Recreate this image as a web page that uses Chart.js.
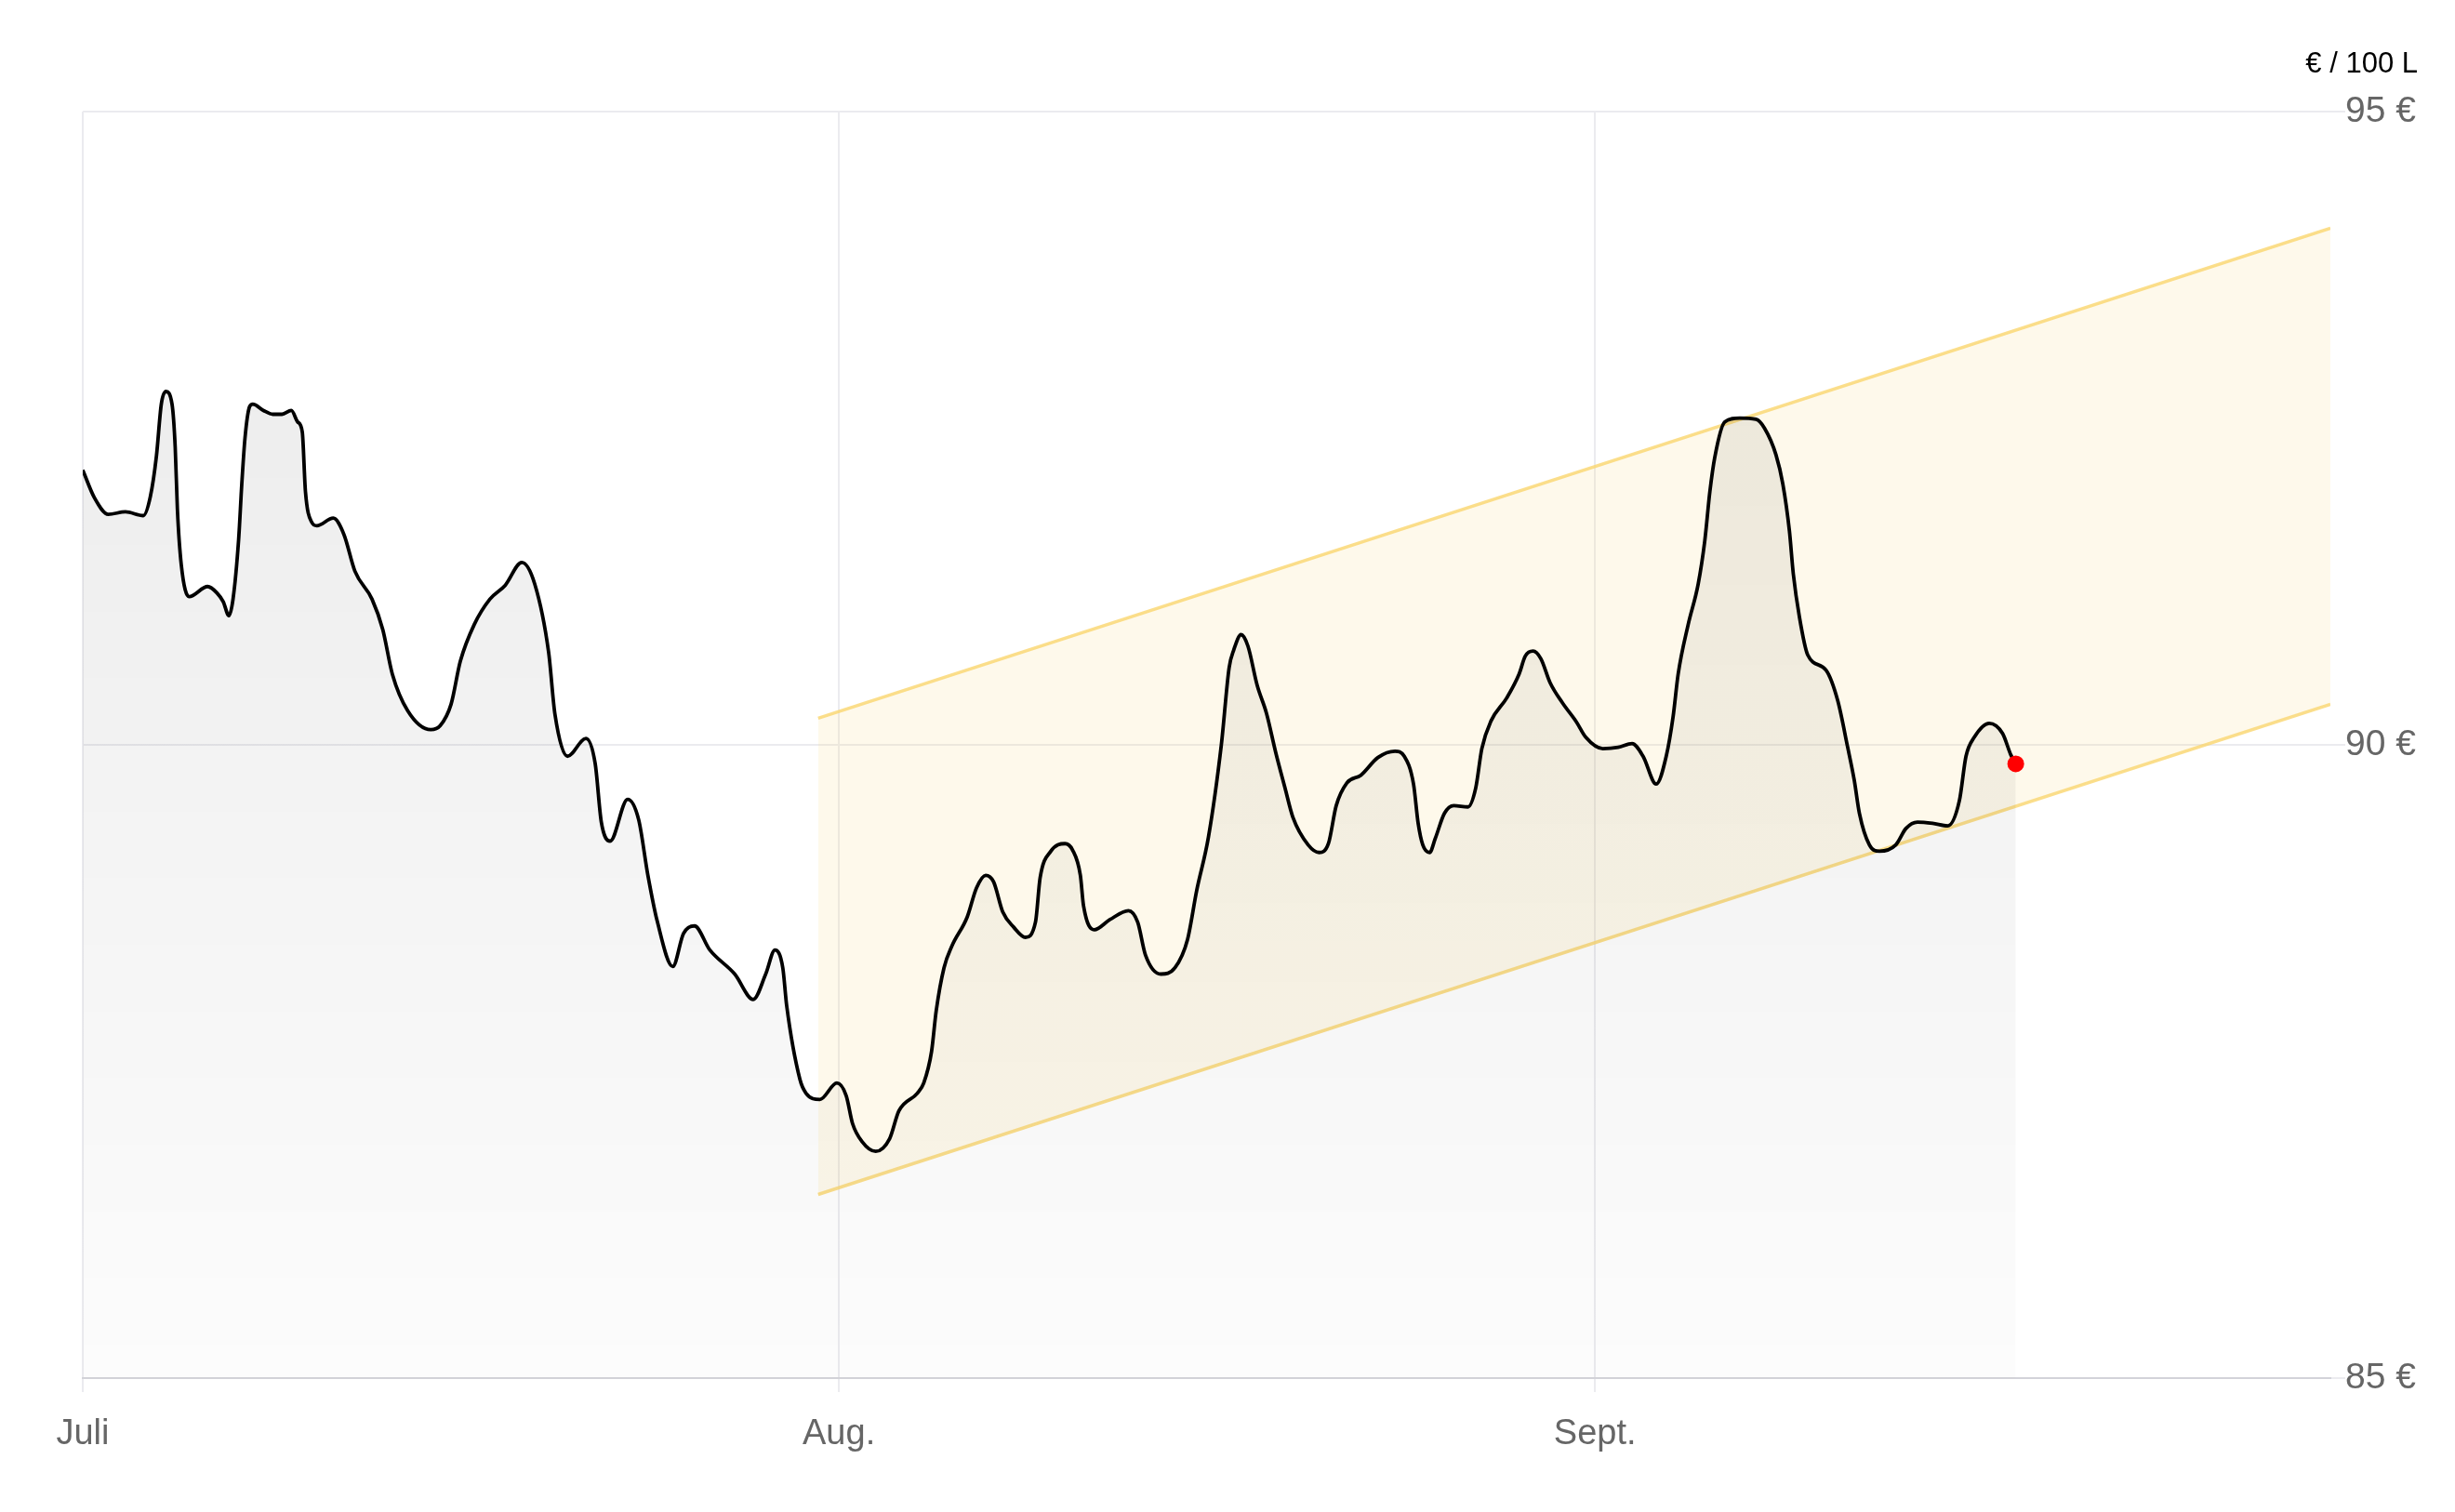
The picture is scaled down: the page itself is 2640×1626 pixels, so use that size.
<!DOCTYPE html>
<html><head><meta charset="utf-8">
<script src="https://cdn.jsdelivr.net/npm/chart.js@4.4.1/dist/chart.umd.min.js"></script>
<style>html,body{margin:0;padding:0;background:#fff;} #wrap{width:2640px;height:1626px;position:relative;}</style>
</head><body><div id="wrap"><canvas id="c"></canvas></div>
<script>
// x values: days since 1 July; y values: € / 100 L
const days = [0.0,0.48,1.05,1.75,2.48,2.77,3.02,3.22,3.41,3.66,3.79,3.88,4.04,4.36,5.12,5.5,5.76,5.99,6.16,6.39,6.52,6.65,6.84,6.97,7.41,7.79,8.17,8.55,8.81,9.0,9.13,9.38,9.6,10.27,10.71,11.16,11.86,12.3,12.69,13.32,14.27,14.65,15.1,15.48,16.05,16.69,17.32,18.0,18.53,19.1,19.36,19.87,20.63,21.01,21.26,21.62,22.34,22.79,23.17,23.55,24.19,24.63,25.08,25.71,26.73,27.49,28.0,28.38,28.7,28.86,29.4,29.65,30.22,30.92,31.3,31.56,31.94,32.51,33.08,33.46,34.22,34.48,34.8,34.99,35.31,35.63,36.26,36.64,37.02,37.34,37.72,38.17,38.65,39.06,39.25,39.69,40.27,40.58,40.9,41.03,41.47,42.11,42.87,43.25,43.57,44.2,44.78,45.29,45.67,46.15,46.68,47.0,47.19,47.49,47.77,48.15,48.53,48.91,49.29,49.61,50.24,50.69,51.07,51.39,51.83,52.4,53.1,53.8,54.18,54.56,54.75,54.94,55.22,55.45,55.83,56.21,56.79,57.11,57.36,57.74,58.38,58.89,59.14,59.46,59.78,60.16,60.67,61.24,61.62,62.32,62.95,63.52,63.97,64.51,64.92,65.2,65.41,65.82,66.23,66.5,66.71,66.91,67.32,67.93,68.6,68.95,69.42,69.7,69.97,70.13,70.38,70.72,71.47,71.95,72.36,72.63,72.84,73.25,73.66,74.33,74.75,75.22,75.84,76.46,76.94,77.21,77.55,78.16,78.71,79.05,79.25];
const prices = [92.17,91.95,91.82,91.84,91.81,91.96,92.28,92.69,92.79,92.69,92.35,91.86,91.42,91.17,91.25,91.2,91.13,91.02,91.15,91.62,92.06,92.42,92.67,92.69,92.64,92.61,92.61,92.64,92.55,92.47,92.0,91.76,91.73,91.79,91.66,91.37,91.15,90.91,90.56,90.27,90.12,90.15,90.32,90.66,90.95,91.15,91.26,91.44,91.27,90.73,90.24,89.91,90.05,89.85,89.39,89.24,89.57,89.41,88.97,88.61,88.25,88.51,88.57,88.38,88.19,87.99,88.19,88.38,88.24,87.94,87.36,87.25,87.2,87.33,87.23,87.01,86.87,86.79,86.89,87.11,87.25,87.33,87.58,87.9,88.24,88.41,88.64,88.87,88.97,88.92,88.68,88.56,88.48,88.6,88.95,89.16,89.22,89.17,88.97,88.73,88.54,88.62,88.69,88.6,88.34,88.19,88.24,88.46,88.85,89.27,90.0,90.61,90.75,90.87,90.78,90.47,90.25,89.94,89.66,89.43,89.21,89.15,89.22,89.52,89.7,89.76,89.9,89.95,89.91,89.69,89.38,89.21,89.15,89.26,89.46,89.52,89.51,89.66,89.97,90.19,90.37,90.56,90.7,90.74,90.68,90.49,90.33,90.18,90.06,89.97,89.98,90.01,89.91,89.69,89.91,90.22,90.56,90.95,91.27,91.61,92.0,92.27,92.55,92.58,92.57,92.5,92.29,92.06,91.69,91.35,91.01,90.71,90.59,90.35,89.98,89.72,89.46,89.21,89.16,89.21,89.34,89.39,89.38,89.36,89.56,89.91,90.06,90.17,90.09,89.92,89.85];
const bandDays = [30.15, 92.15];
const bandUpper = [90.21, 94.08];
const bandLower = [86.45, 90.32];
const monthTicks = [0, 31, 62];
const monthLabels = ['Juli', 'Aug.', 'Sept.'];
const yTicks = [85, 90, 95];
const unitLabel = '€ / 100 L';

const FONT = '"Liberation Sans", Arial, sans-serif';
Chart.defaults.font.family = FONT;

const unitPlugin = {
  id: 'unit',
  afterDraw(chart) {
    const ctx = chart.ctx;
    ctx.save();
    ctx.font = '31px ' + FONT;
    ctx.fillStyle = '#000';
    ctx.textAlign = 'right';
    ctx.textBaseline = 'alphabetic';
    ctx.fillText(unitLabel, chart.chartArea.right + 94, 78);
    ctx.restore();
  }
};

const lineData = days.map((d, i) => ({x: d, y: prices[i]}));
const upData = bandDays.map((d, i) => ({x: d, y: bandUpper[i]}));
const loData = bandDays.map((d, i) => ({x: d, y: bandLower[i]}));

new Chart(document.getElementById('c'), {
  type: 'line',
  data: {
    datasets: [
      {
        data: lineData,
        borderColor: '#000',
        borderWidth: 3.8,
        cubicInterpolationMode: 'monotone',
        fill: 'start',
        backgroundColor: (c) => {
          const a = c.chart.chartArea;
          if (!a) return 'rgba(0,0,0,0.05)';
          const g = c.chart.ctx.createLinearGradient(0, a.top, 0, a.bottom);
          g.addColorStop(0, 'rgba(0,0,0,0.085)');
          g.addColorStop(1, 'rgba(0,0,0,0.012)');
          return g;
        },
        pointRadius: (c) => c.dataIndex === days.length - 1 ? 9 : 0,
        pointHoverRadius: (c) => c.dataIndex === days.length - 1 ? 9 : 0,
        pointBackgroundColor: '#ff0000',
        pointBorderWidth: 0,
        order: 0
      },
      {
        data: upData,
        borderColor: 'rgba(250,214,110,0.8)',
        borderWidth: 3.5,
        tension: 0,
        pointRadius: 0,
        fill: '+1',
        backgroundColor: 'rgba(250,220,130,0.16)',
        order: 1
      },
      {
        data: loData,
        borderColor: 'rgba(250,214,110,0.8)',
        borderWidth: 3.5,
        tension: 0,
        pointRadius: 0,
        fill: false,
        order: 1
      }
    ]
  },
  options: {
    responsive: true,
    maintainAspectRatio: false,
    animation: false,
    layout: { padding: { top: 120, left: 89, right: 0, bottom: 0 } },
    plugins: { legend: { display: false }, tooltip: { enabled: false }, title: { display: false } },
    scales: {
      x: {
        type: 'linear', min: 0, max: 92.15, position: 'bottom',
        afterBuildTicks: (s) => { s.ticks = monthTicks.map(v => ({value: v})); },
        afterFit: (s) => { s.height = 144; },
        ticks: {
          autoSkip: false, maxRotation: 0, minRotation: 0, padding: 23,
          color: '#666', font: { size: 38 },
          callback: (v, i) => monthLabels[i]
        },
        grid: { color: '#ebebef', lineWidth: 2, tickLength: 15 },
        border: { display: true, color: '#d3d3d9', width: 2 }
      },
      y: {
        position: 'right', min: 85, max: 95,
        afterBuildTicks: (s) => { s.ticks = yTicks.map(v => ({value: v})); },
        afterFit: (s) => { s.width = 134; },
        ticks: { padding: 0, color: '#666', font: { size: 39 }, callback: (v) => v + ' €' },
        grid: { color: '#ebebef', lineWidth: 2, tickLength: 16 },
        border: { display: false }
      }
    }
  },
  plugins: [unitPlugin]
});
</script>
</body></html>
